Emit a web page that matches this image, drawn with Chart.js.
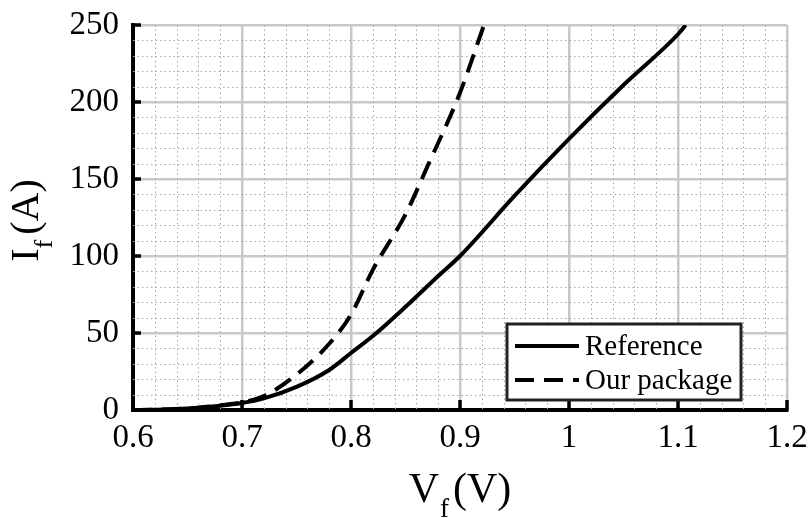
<!DOCTYPE html>
<html>
<head>
<meta charset="utf-8">
<script src="https://cdn.jsdelivr.net/npm/chart.js@4.4.1/dist/chart.umd.min.js"></script>
<style>
  html, body { margin: 0; padding: 0; background: #fff; }
  #wrap { width: 812px; height: 518px; }
</style>
</head>
<body>
<div id="wrap"><canvas id="c" width="812" height="518"></canvas></div>
<script>
// ---- Data ----
const refVf = [0.60, 0.62, 0.64, 0.66, 0.68, 0.70, 0.72, 0.75, 0.78, 0.80, 0.82, 0.85, 0.88, 0.90, 0.95, 1.00, 1.05, 1.10, 1.107];
const refIf = [0, 0.2, 0.6, 1.5, 2.8, 4.5, 7.5, 15, 26, 37, 48, 67, 87, 100, 139, 176, 211, 244, 250];
const pkgVf = [0.60, 0.62, 0.64, 0.66, 0.68, 0.70, 0.72, 0.75, 0.78, 0.80, 0.82, 0.85, 0.87, 0.90, 0.922];
const pkgIf = [0, 0.2, 0.6, 1.5, 3, 5, 9, 23, 43, 62, 91, 127, 158, 206, 250];
const seriesNames = ['Reference', 'Our package'];
const xTitle = ['V', 'f', '(V)'];
const yTitle = ['I', 'f', '(A)'];

const SERIF = '"Liberation Serif", "Times New Roman", serif';

function pts(xs, ys) { return xs.map((x, i) => ({ x: x, y: ys[i] })); }

const isMajorX = v => Math.abs(v * 10 - Math.round(v * 10)) < 1e-6;

const decorPlugin = {
  id: 'decor',
  beforeDatasetsDraw(chart) {
    const { ctx, chartArea: a, scales: { x, y } } = chart;
    ctx.save();
    ctx.strokeStyle = '#a8a8a8';
    ctx.lineWidth = 1;
    ctx.setLineDash([1.5, 3]);
    // minor vertical grid (every 0.02)
    for (let k = 0; ; k++) {
      const v = x.min + k * 0.02;
      if (v > x.max + 1e-9) break;
      if (isMajorX(v)) continue;
      const px = Math.round(x.getPixelForValue(v)) + 0.5;
      ctx.beginPath(); ctx.moveTo(px, a.top); ctx.lineTo(px, a.bottom); ctx.stroke();
    }
    // minor horizontal grid (every 10)
    for (let v = y.min; v <= y.max; v += 10) {
      if (v % 50 === 0) continue;
      const py = Math.round(y.getPixelForValue(v)) + 0.5;
      ctx.beginPath(); ctx.moveTo(a.left, py); ctx.lineTo(a.right, py); ctx.stroke();
    }
    ctx.restore();
  },
  afterDraw(chart) {
    const { ctx, chartArea: a, scales: { x, y } } = chart;
    ctx.save();
    // inward major ticks
    ctx.strokeStyle = '#000';
    ctx.lineWidth = 3.5;
    ctx.setLineDash([]);
    y.ticks.forEach(t => {
      const py = y.getPixelForValue(t.value);
      ctx.beginPath(); ctx.moveTo(a.left, py); ctx.lineTo(a.left + 8, py); ctx.stroke();
    });
    x.ticks.forEach(t => {
      const px = x.getPixelForValue(t.value);
      ctx.beginPath(); ctx.moveTo(px, a.bottom); ctx.lineTo(px, a.bottom - 10); ctx.stroke();
    });

    // x axis title with subscript
    ctx.fillStyle = '#000';
    ctx.textBaseline = 'alphabetic';
    const big = '42px ' + SERIF, small = '27px ' + SERIF;
    ctx.font = big; const w1 = ctx.measureText(xTitle[0]).width;
    const w3 = ctx.measureText(xTitle[2]).width;
    ctx.font = small; const w2 = ctx.measureText(xTitle[1]).width;
    const gap = 5;
    const total = w1 + w2 + gap + w3;
    let sx = (a.left + a.right) / 2 - total / 2;
    const by = 502;
    ctx.textAlign = 'left';
    ctx.font = big; ctx.fillText(xTitle[0], sx, by);
    ctx.font = small; ctx.fillText(xTitle[1], sx + w1 + 1, by + 15);
    ctx.font = big; ctx.fillText(xTitle[2], sx + w1 + w2 + gap, by);

    // y axis title (rotated)
    ctx.save();
    ctx.translate(38, (a.top + a.bottom) / 2 + 3);
    ctx.rotate(-Math.PI / 2);
    const ybig = '40px ' + SERIF, ysmall = '26px ' + SERIF;
    ctx.font = ybig; const u1 = ctx.measureText(yTitle[0]).width;
    const u3 = ctx.measureText(yTitle[2]).width;
    ctx.font = ysmall; const u2 = ctx.measureText(yTitle[1]).width;
    const ut = u1 + u2 + gap + u3;
    let sy = -ut / 2;
    ctx.font = ybig; ctx.fillText(yTitle[0], sy, 0);
    ctx.font = ysmall; ctx.fillText(yTitle[1], sy + u1, 14);
    ctx.font = ybig; ctx.fillText(yTitle[2], sy + u1 + u2 + gap, 0);
    ctx.restore();

    // legend box
    const lx = a.right - 280, ly = a.bottom - 86, lw = 234, lh = 76;
    ctx.fillStyle = '#fff';
    ctx.fillRect(lx, ly, lw, lh);
    ctx.strokeStyle = '#222';
    ctx.lineWidth = 3;
    ctx.strokeRect(lx, ly, lw, lh);
    chart.data.datasets.forEach((ds, i) => {
      const cy = ly + 22 + i * 34;
      ctx.strokeStyle = '#000';
      ctx.lineWidth = 4;
      ctx.setLineDash(ds.borderDash || []);
      ctx.beginPath(); ctx.moveTo(lx + 8, cy); ctx.lineTo(lx + 72, cy); ctx.stroke();
      ctx.setLineDash([]);
      ctx.fillStyle = '#000';
      ctx.font = '29px ' + SERIF;
      ctx.textAlign = 'left';
      ctx.textBaseline = 'alphabetic';
      ctx.fillText(ds.label, lx + 78, cy + 9);
    });
    ctx.restore();
  }
};

new Chart(document.getElementById('c'), {
  type: 'scatter',
  data: {
    datasets: [
      {
        label: seriesNames[0],
        data: pts(refVf, refIf),
        showLine: true,
        borderColor: '#000',
        borderWidth: 4,
        pointRadius: 0,
        cubicInterpolationMode: 'monotone',
        fill: false
      },
      {
        label: seriesNames[1],
        data: pts(pkgVf, pkgIf),
        showLine: true,
        borderColor: '#000',
        borderWidth: 4,
        borderDash: [19, 10],
        pointRadius: 0,
        cubicInterpolationMode: 'monotone',
        fill: false
      }
    ]
  },
  options: {
    responsive: false,
    animation: false,
    devicePixelRatio: 1,
    layout: { padding: { top: 25, right: 25, left: 0, bottom: 0 } },
    plugins: { legend: { display: false }, tooltip: { enabled: false } },
    scales: {
      x: {
        type: 'linear',
        min: 0.6,
        max: 1.2,
        ticks: {
          stepSize: 0.1,
          color: '#000',
          font: { family: SERIF, size: 33 },
          padding: 9,
          maxRotation: 0,
          autoSkip: false,
          callback: v => String(Math.round(v * 10) / 10)
        },
        grid: { color: '#c8c8c8', lineWidth: 2.5, drawTicks: false },
        border: { color: '#000', width: 4 },
        afterFit: s => { s.height = 108; s.paddingLeft = 0; s.paddingRight = 0; }
      },
      y: {
        type: 'linear',
        min: 0,
        max: 250,
        ticks: {
          stepSize: 50,
          color: '#000',
          font: { family: SERIF, size: 33 },
          padding: 14
        },
        grid: { color: '#c8c8c8', lineWidth: 2.5, drawTicks: false },
        border: { color: '#000', width: 4 },
        afterFit: s => { s.width = 133; s.paddingTop = 0; s.paddingBottom = 0; }
      }
    }
  },
  plugins: [decorPlugin]
});
</script>
</body>
</html>
